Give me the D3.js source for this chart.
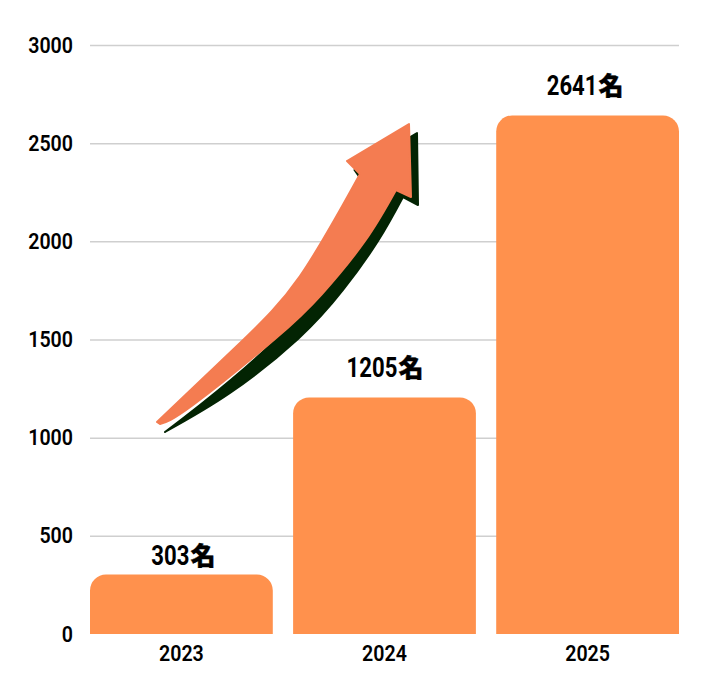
<!DOCTYPE html>
<html>
<head>
<meta charset="utf-8">
<script src="https://cdn.jsdelivr.net/npm/d3@7"></script>
<style>
  html, body { margin: 0; padding: 0; background: #fff; }
  text { font-family: Roboto, "Noto Sans CJK JP", sans-serif; fill: #000; }
  .tick text { font-size: 22px; font-weight: 600; }
  .value { font-size: 27px; font-weight: 700; }
  .unit { font-size: 25px; font-family: "Noto Sans CJK JP", sans-serif; font-weight: 900; stroke: #000; stroke-width: 0.4; }
</style>
</head>
<body>
<div id="viz"></div>
<script>
// chart data
var years = ["2023", "2024", "2025"];
var counts = [303, 1205, 2641];
var yTicks = [0, 500, 1000, 1500, 2000, 2500, 3000];
var unit = "名";

// The margin puts the plot area where the reference has it
var margin = {top: 45, right: 40, bottom: 52, left: 90};
var width = 719 - margin.left - margin.right;
var height = 686 - margin.top - margin.bottom;

var svg = d3.select("#viz")
    .append("svg")
    .attr("width", 719)
    .attr("height", 686)
    .style("display", "block");

var g = svg.append("g")
    .attr("transform", "translate(" + margin.left + "," + margin.top + ")");

var x = d3.scaleBand().domain(years).range([0, width]).paddingInner(0.1).paddingOuter(0);
var y = d3.scaleLinear().domain([0, 3000]).range([height, 0]);

// y axis doubles as the grid
var yAxis = g.append("g")
    .call(d3.axisLeft(y).tickValues(yTicks).tickSize(-width).tickPadding(17).tickFormat(d3.format("d")));
yAxis.select(".domain").remove();
yAxis.selectAll(".tick line").attr("stroke", "#cfcfcf").attr("stroke-width", 1.5)
    .attr("display", function(d) { return d === 0 ? "none" : null; });

var xAxis = g.append("g")
    .attr("transform", "translate(0," + height + ")")
    .call(d3.axisBottom(x).tickSize(0).tickPadding(11));
xAxis.select(".domain").remove();

// the reference face is narrower than Roboto, so squeeze the digits
g.selectAll(".tick text")
    .attr("lengthAdjust", "spacingAndGlyphs")
    .attr("textLength", function() { return this.textContent.length * 11.2; });

// bars, only the top corners are rounded
var radius = 16;
function barPath(d, i) {
  var p = d3.path();
  var x0 = x(years[i]), x1 = x0 + x.bandwidth(), top = y(d), base = y(0);
  p.moveTo(x0, base);
  p.lineTo(x0, top + radius);
  p.arcTo(x0, top, x0 + radius, top, radius);
  p.lineTo(x1 - radius, top);
  p.arcTo(x1, top, x1, top + radius, radius);
  p.lineTo(x1, base);
  p.closePath();
  return p.toString();
}
g.selectAll(".bar")
    .data(counts)
    .enter().append("path")
    .attr("class", "bar")
    .attr("d", barPath)
    .attr("fill", "#ff914d");

// value labels: digits end where the unit starts, both centred over the bar as a pair.
// the small bar's label sits closer so it clears the 500 line
var labelNudge = [2.5, 1, -2];
var digitWidth = 12.7, unitWidth = 25, digitSqueeze = 0.82;
function labelX(d, i) {
  var total = String(d).length * digitWidth + unitWidth;
  return x(years[i]) + x.bandwidth() / 2 + labelNudge[i] + total / 2 - unitWidth;
}
function labelY(d) { return y(d) - (d < 500 ? 10 : 20); }

g.selectAll(".value")
    .data(counts)
    .enter().append("text")
    .attr("class", "value")
    .attr("text-anchor", "end")
    .attr("transform", function(d, i) {
      return "translate(" + (labelX(d, i) - 1) + "," + labelY(d) + ") scale(" + digitSqueeze + ",1)";
    })
    .text(function(d) { return d; });
g.selectAll(".unit")
    .data(counts)
    .enter().append("text")
    .attr("class", "unit")
    .attr("x", labelX)
    .attr("y", labelY)
    .text(unit);

// growth arrow annotation, drawn in page pixels
var shadowUpper = [[165, 432], [200, 405], [270, 345], [330, 270], [365, 185]];
var shadowHead = [[354.5, 170], [417, 133], [418, 205], [403, 197]];
var shadowLower = [[403, 197], [378, 241], [343, 290], [298, 339], [230, 393], [165, 432]];
var arrowUpper = [[157, 422], [240, 343], [300, 276], [360, 174]];
var arrowHead = [[347, 161], [409, 124], [411, 197], [396, 190]];
var arrowLower = [[396, 190], [365, 241], [322, 294], [275, 339], [193, 405], [160, 424]];
var edge = d3.line().curve(d3.curveNatural);

function drawArrow(upper, head, lower, colour) {
  svg.append("path")
    .attr("d", edge(upper) + "L" + head.join("L") + edge(lower).replace(/^M/, "L") + "Z")
    .attr("fill", colour)
    .attr("stroke", colour)
    .attr("stroke-width", 2)
    .attr("stroke-linejoin", "round");
}
drawArrow(shadowUpper, shadowHead, shadowLower, "#032403");
drawArrow(arrowUpper, arrowHead, arrowLower, "#f47c51");
</script>
</body>
</html>
